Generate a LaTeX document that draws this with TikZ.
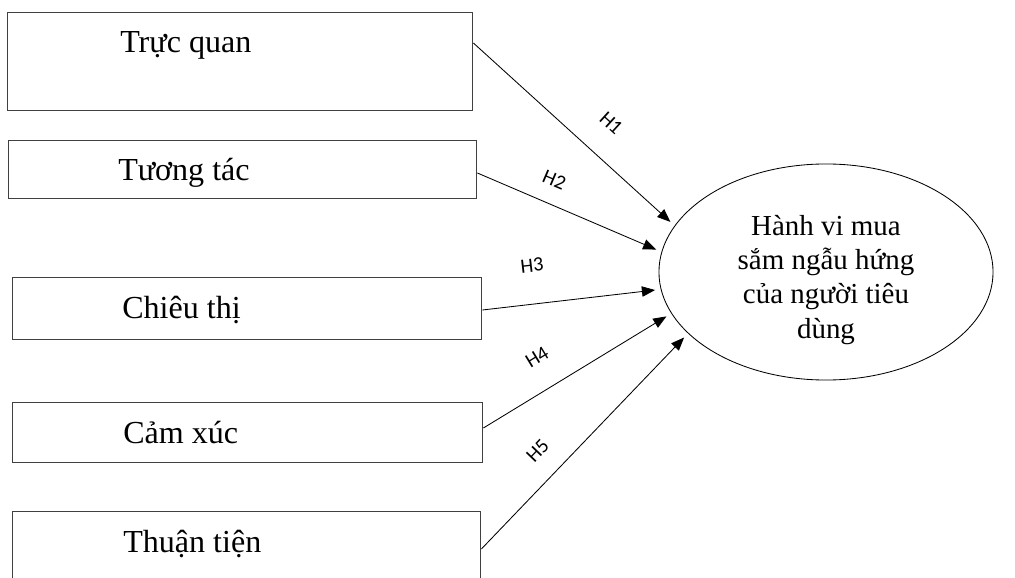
\documentclass[tikz,border=0pt]{standalone}
\usepackage{fontspec}
\setmainfont{Liberation Serif}
\newfontfamily\hypfont{Carlito}
\usetikzlibrary{positioning,calc,arrows.meta,shapes.geometric}

\tikzset{
  factor/.style={rectangle, draw=black!75, line width=0.9pt, anchor=north west, inner sep=0pt},
  factorname/.style={anchor=base west, inner sep=0pt, font=\fontsize{22.8}{27}\selectfont},
  hyp/.style={-{Triangle[length=0.33cm,width=0.26cm]}, draw=black, line width=0.6pt, shorten >=4pt},
  hyplabel/.style={sloped, inner sep=0pt, font=\hypfont\fontsize{14.5}{17}\selectfont}
}

\begin{document}
\begin{tikzpicture}[x=0.025cm, y=-0.025cm]
\useasboundingbox (0,0) rectangle (1015,578);
\clip (0,0) rectangle (1015,578);

\node[factor, minimum width=11.625cm, minimum height=2.45cm] (f1) at (7,12)  {};
\node[factor, minimum width=11.7cm,   minimum height=1.45cm] (f2) at (8,140) {};
\node[factor, minimum width=11.725cm, minimum height=1.55cm] (f3) at (12,277) {};
\node[factor, minimum width=11.75cm,  minimum height=1.5cm]  (f4) at (12,402) {};
\node[factor, minimum width=11.7cm,   minimum height=2.0cm]  (f5) at (12,511) {};

\node[factorname] (n1) at ($(f1.north west)+(113,41)$) {Trực quan};
\node[factorname] (n2) at ($(f2.north west)+(110,41)$) {Tương tác};
\node[factorname] (n3) at ($(f3.north west)+(110,41)$) {Chiêu thị};
\node[factorname] (n4) at ($(f4.north west)+(111,41)$) {Cảm xúc};
\node[factorname] (n5) at ($(f5.north west)+(111,41)$) {Thuận tiện};

\node[ellipse, draw, line width=0.6pt, minimum width=8.35cm, minimum height=5.4cm,
      inner sep=0pt, align=center, font=\fontsize{20.6}{24.4}\selectfont]
      (goal) at (826,272) {\rule{0pt}{25.5pt}Hành vi mua\\sắm ngẫu hứng\\của người tiêu\\dùng};

\path ($(f1.north east)+(0,31)$) edge[hyp] node[hyplabel, pos=0.574, yshift=0.83cm] {H1} (goal.163)
      ($(f2.north east)+(0,33)$) edge[hyp] node[hyplabel, pos=0.368, yshift=0.59cm] {H2} (goal.173)
      ($(f3.north east)+(0,33)$) edge[hyp] node[hyplabel, pos=0.303, yshift=0.97cm] {H3} (goal.186)
      ($(f4.north east)+(0,26)$) edge[hyp] node[hyplabel, pos=0.375, yshift=0.81cm] {H4} (goal.195)
      ($(f5.north east)+(0,38)$) edge[hyp] node[hyplabel, pos=0.367, yshift=0.68cm] {H5} (goal.204);
\end{tikzpicture}
\end{document}
